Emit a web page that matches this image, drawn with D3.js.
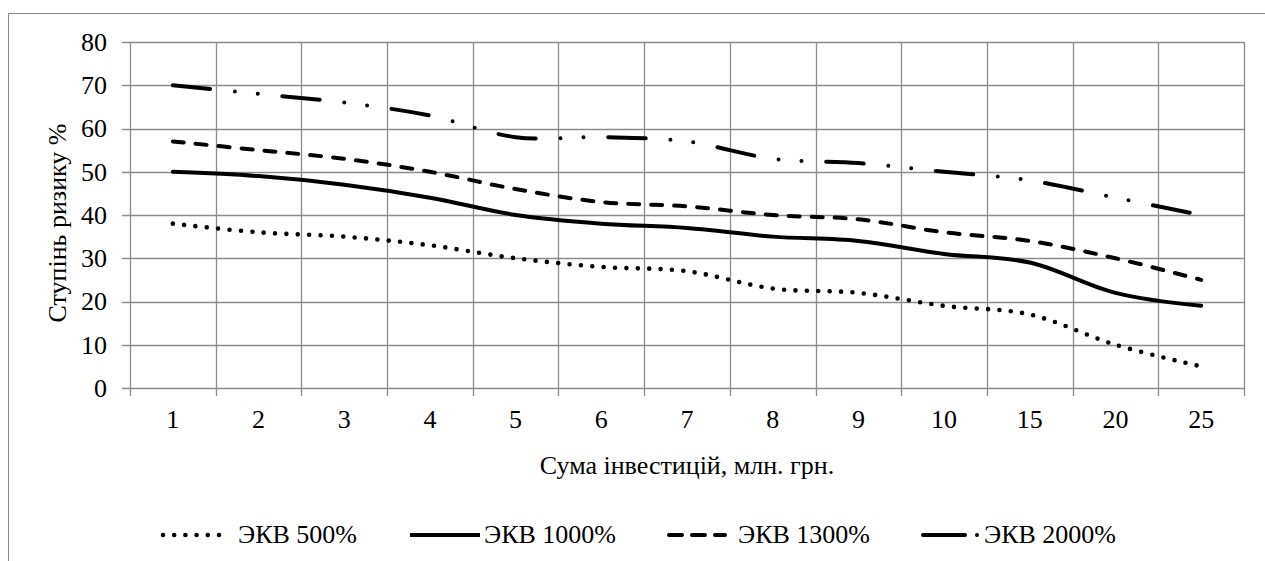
<!DOCTYPE html>
<html>
<head>
<meta charset="utf-8">
<script src="https://cdn.jsdelivr.net/npm/d3@7"></script>
<style>
  body { margin: 0; background: #fff; }
  svg { display: block; }
  svg text { font-family: "Liberation Serif", "Times New Roman", serif; font-size: 26px; fill: #000; }
</style>
</head>
<body>
<svg id="chart"></svg>
<script>
const width = 1265
const height = 561

// data
const categories = ['1', '2', '3', '4', '5', '6', '7', '8', '9', '10', '15', '20', '25']
const ekv500 = [38, 36, 35, 33, 30, 28, 27, 23, 22, 19, 17, 10, 5]
const ekv1000 = [50, 49, 47, 44, 40, 38, 37, 35, 34, 31, 29, 22, 19]
const ekv1300 = [57, 55, 53, 50, 46, 43, 42, 40, 39, 36, 34, 30, 25]
const ekv2000 = [70, 68, 66, 63, 58, 58, 57, 53, 52, 50, 48, 44, 40]
const seriesNames = ['ЭКВ 500%', 'ЭКВ 1000%', 'ЭКВ 1300%', 'ЭКВ 2000%']
const yTicks = [0, 10, 20, 30, 40, 50, 60, 70, 80]

const margin = { left: 130, right: 21, top: 42, bottom: 173 }

const svg = d3.select('#chart').attr('width', width).attr('height', height)

// chart frame
svg.append('path')
  .attr('d', `M8.5,${height} V13.5 H${width}`)
  .attr('fill', 'none')
  .attr('stroke', '#898989')
  .attr('stroke-width', 1)

const x = d3.scaleBand()
  .domain(categories)
  .range([margin.left, width - margin.right])
  .padding(0)

const y = d3.scaleLinear()
  .domain([0, 80])
  .range([height - margin.bottom, margin.top])

const g = svg.append('g')
const gridColor = '#8c8c8c'

// horizontal grid
g.append('g')
  .selectAll('line')
  .data(yTicks)
  .join('line')
  .attr('x1', margin.left - 8)
  .attr('x2', width - margin.right)
  .attr('y1', (d) => Math.round(y(d)) + 0.5)
  .attr('y2', (d) => Math.round(y(d)) + 0.5)
  .attr('stroke', gridColor)
  .attr('stroke-width', 1.3)

// vertical grid (category boundaries) + ticks below axis
const bounds = categories.map((c) => x(c)).concat([width - margin.right])
g.append('g')
  .selectAll('line')
  .data(bounds)
  .join('line')
  .attr('x1', (d) => Math.round(d) + 0.5)
  .attr('x2', (d) => Math.round(d) + 0.5)
  .attr('y1', margin.top)
  .attr('y2', height - margin.bottom + 8)
  .attr('stroke', gridColor)
  .attr('stroke-width', 1.3)

// axes labels
const yAxis = g.append('g')
  .attr('transform', `translate(${margin.left},0)`)
  .call(d3.axisLeft(y).tickValues(yTicks).tickSize(0).tickPadding(23))
yAxis.attr('font-family', null).attr('font-size', null)
yAxis.select('.domain').remove()

const xAxis = g.append('g')
  .attr('transform', `translate(0,${height - margin.bottom})`)
  .call(d3.axisBottom(x).tickSize(0).tickPadding(22))
xAxis.attr('font-family', null).attr('font-size', null)
xAxis.select('.domain').remove()

// axis titles
svg.append('text')
  .attr('x', (margin.left + width - margin.right) / 2)
  .attr('y', 474)
  .attr('text-anchor', 'middle')
  .text('Сума інвестицій, млн. грн.')

svg.append('text')
  .attr('transform', `translate(66,223) rotate(-90)`)
  .attr('text-anchor', 'middle')
  .text('Ступінь ризику %')

// series
const styles = [
  { dash: '0 11.4', legendDash: '0 11.2', w: 4.6, from: 163, to: 220, textX: 238 },
  { dash: null, legendDash: null, w: 4, from: 410, to: 480, textX: 484 },
  { dash: '11 12', legendDash: '13 10', w: 4, from: 669, to: 725, textX: 738 },
  { dash: '37.6 24.7 0 23 0 24.7', legendDash: '42 12 0 100', w: 4, from: 923, to: 980, textX: 984 }
]
const seriesData = [ekv500, ekv1000, ekv1300, ekv2000]

const line = d3.line()
  .x((d, i) => x(categories[i]) + x.bandwidth() / 2)
  .y((d) => y(d))
  .curve(d3.curveCatmullRom.alpha(0))

const linesLayer = svg.append('g').attr('class', 'layer__lines')
seriesData.forEach((vals, i) => {
  linesLayer.append('path')
    .datum(vals)
    .attr('d', line)
    .attr('fill', 'none')
    .attr('stroke', '#000')
    .attr('stroke-width', styles[i].w)
    .attr('stroke-linecap', 'round')
    .attr('stroke-linejoin', 'round')
    .attr('stroke-dasharray', styles[i].dash)
})

// legend
const legendY = 535
const legend = svg.append('g').attr('class', 'legend')
seriesNames.forEach((name, i) => {
  const s = styles[i]
  legend.append('line')
    .attr('x1', s.from)
    .attr('x2', s.to)
    .attr('y1', legendY)
    .attr('y2', legendY)
    .attr('stroke', '#000')
    .attr('stroke-width', s.w)
    .attr('stroke-linecap', i === 1 ? 'butt' : 'round')
    .attr('stroke-dasharray', s.legendDash)
  legend.append('text')
    .attr('x', s.textX)
    .attr('y', legendY + 8)
    .text(name)
})
</script>
</body>
</html>
